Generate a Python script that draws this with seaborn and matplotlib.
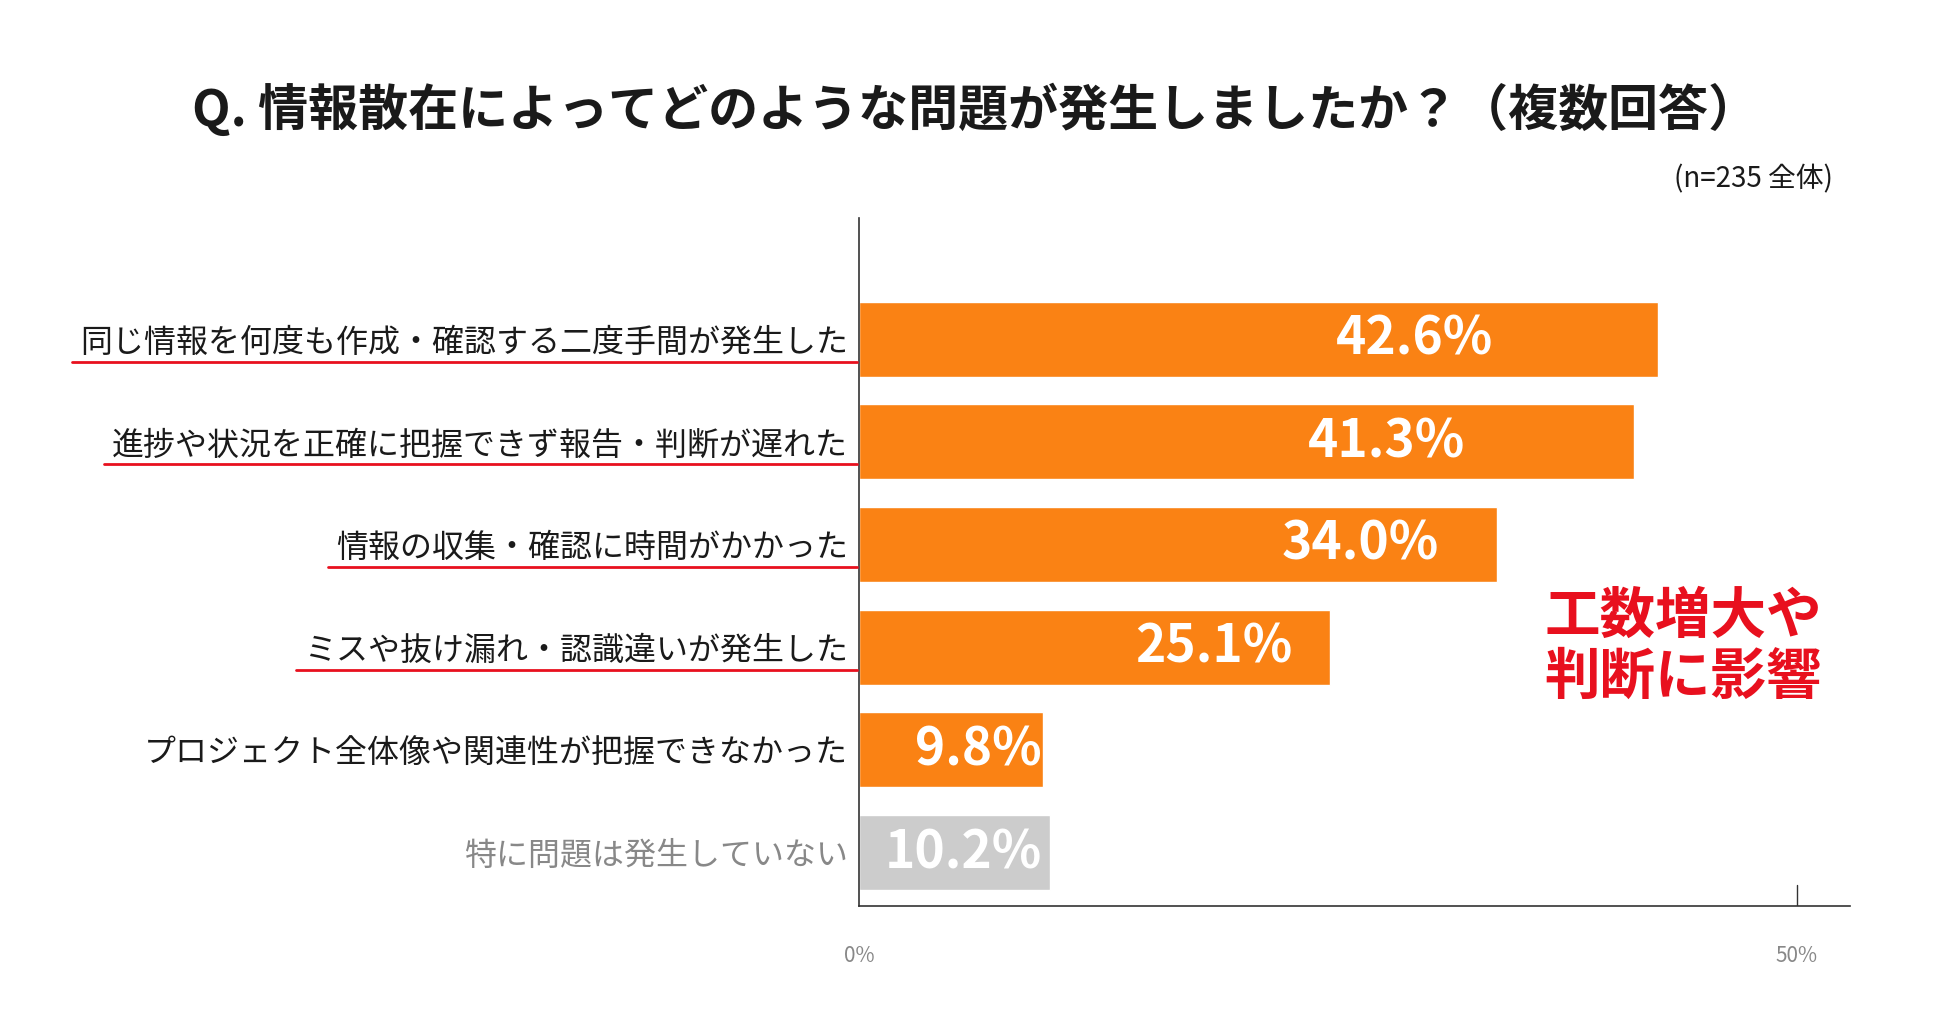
import numpy as np
import pandas as pd
import seaborn as sns
import matplotlib.pyplot as plt
from matplotlib.lines import Line2D

sns.set_theme(style="white")
plt.rcParams['font.family'] = ['Noto Sans CJK JP', 'DejaVu Sans']

# Data
categories = [
    '同じ情報を何度も作成・確認する二度手間が発生した',
    '進捗や状況を正確に把握できず報告・判断が遅れた',
    '情報の収集・確認に時間がかかった',
    'ミスや抜け漏れ・認識違いが発生した',
    'プロジェクト全体像や関連性が把握できなかった',
    '特に問題は発生していない',
]
values = [42.6, 41.3, 34.0, 25.1, 9.8, 10.2]
underlined = [True, True, True, True, False, False]

bar_colors = ['#FA8214'] * 5 + ['#CCCCCC']
label_colors = ['#1a1a1a'] * 5 + ['#888888']
# where the value labels sit (centre, in % units)
label_x = [29.6, 28.1, 26.7, 18.9, 6.35, 5.55]

df = pd.DataFrame({'cat': categories, 'val': values})

fig = plt.figure(figsize=(19.5, 10.21), dpi=100)
ax = fig.add_axes([0.4405, 0.1126, 0.508, 0.674])

sns.barplot(data=df, x='val', y='cat', hue='cat', palette=bar_colors,
            legend=False, width=0.73, ax=ax, saturation=1)

ax.set_xlim(0, 52.8)
ax.set_ylim(5.52, -1.18)
ax.set_xlabel('')
ax.set_ylabel('')
ax.set_xticks([0, 50])
ax.set_xticklabels(['0%', '50%'], color='#888888', fontsize=15)
ax.tick_params(axis='x', length=0, pad=28)
ax.tick_params(axis='y', length=0, pad=8)
ax.axvline(50, ymin=0, ymax=0.03, color='#333333', lw=1)
for s in ['top', 'right']:
    ax.spines[s].set_visible(False)
for s in ['left', 'bottom']:
    ax.spines[s].set_color('#333333')
    ax.spines[s].set_linewidth(1.2)

for lbl, c in zip(ax.get_yticklabels(), label_colors):
    lbl.set_color(c)
    lbl.set_fontsize(23)

for i, (v, x) in enumerate(zip(values, label_x)):
    ax.text(x, i, f'{v:.1f}%', ha='center', va='center', color='white',
            fontsize=37, fontweight='bold', family=['Noto Sans CJK JP', 'DejaVu Sans'])

# red underlines under key labels
fig.canvas.draw()
inv = fig.transFigure.inverted()
for lbl, u in zip(ax.get_yticklabels(), underlined):
    if not u:
        continue
    bb = lbl.get_window_extent()
    (x0, y0), (x1, y1) = inv.transform([[bb.x0, bb.y0], [bb.x1, bb.y1]])
    fig.add_artist(Line2D([x0 - 0.004, 0.4395], [y0 - 0.003, y0 - 0.003],
                          color='#E8101E', lw=2, transform=fig.transFigure))

fig.text(0.5, 0.892, 'Q. 情報散在によってどのような問題が発生しましたか？（複数回答）',
         ha='center', va='center', fontsize=36, fontweight='bold', color='#1a1a1a')
fig.text(0.94, 0.824, '(n=235 全体)', ha='right', va='center', fontsize=20, color='#1a1a1a')
fig.text(0.863, 0.366, '工数増大や\n判断に影響', ha='center', va='center', fontsize=40,
         fontweight='bold', color='#E8101E', linespacing=1.12)

fig.savefig('out.png', dpi=100, facecolor='white')
